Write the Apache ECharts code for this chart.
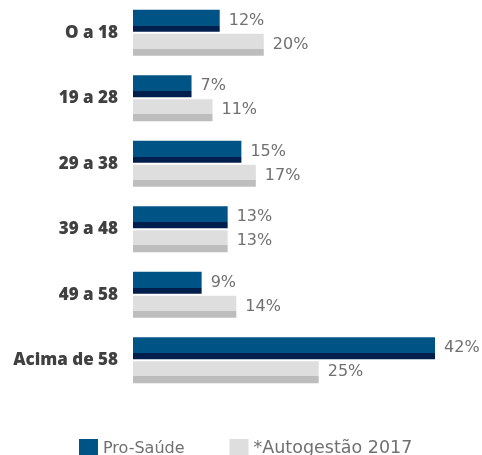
<!DOCTYPE html>
<html><head><meta charset="utf-8">
<script src="https://cdn.jsdelivr.net/npm/echarts@6/dist/echarts.min.js"></script>
<style>html,body{margin:0;padding:0;background:#fff}#c{width:482px;height:455px}</style>
</head><body><div id="c"></div>
<script>
const categories = ['O a 18', '19 a 28', '29 a 38', '39 a 48', '49 a 58', 'Acima de 58'];
const seriesNames = ['Pro-Saúde', '*Autogestão 2017'];
// bar lengths as drawn (percent)
const proSaude = [12, 8.1, 15, 13.1, 9.5, 41.8];
const autogestao = [18.1, 11, 17, 13.1, 14.3, 25.7];
// labels as printed
const proSaudeLabels = ['12%', '7%', '15%', '13%', '9%', '42%'];
const autogestaoLabels = ['20%', '11%', '17%', '13%', '14%', '25%'];

function hard(a, b, at) {
  return new echarts.graphic.LinearGradient(0, 0, 0, 1, [
    {offset: 0, color: a}, {offset: at, color: a},
    {offset: at, color: b}, {offset: 1, color: b}
  ]);
}
const chart = echarts.init(document.getElementById('c'), null, {renderer: 'canvas'});
const lbl = (arr) => ({
  show: true, position: 'right', distance: 9,
  color: '#707070', fontSize: 16, fontFamily: 'DejaVu Sans',
  formatter: p => arr[p.dataIndex]
});
chart.setOption({
  animation: false,
  grid: {left: 133, right: 0, top: -2, height: 395, containLabel: false},
  xAxis: {type: 'value', min: 0, max: 48.3, show: false},
  yAxis: {
    type: 'category', data: categories, inverse: true,
    axisLine: {show: false}, axisTick: {show: false}, splitLine: {show: false},
    axisLabel: {color: '#404040', fontWeight: 900, fontSize: 17, fontFamily: 'Open Sans', margin: 15}
  },
  legend: {
    bottom: -8, left: 74, itemWidth: 19, itemHeight: 19, itemGap: 45,
    icon: 'rect',
    textStyle: {color: '#707070', fontSize: 16, fontFamily: 'DejaVu Sans'},
    data: [
      {name: seriesNames[0], itemStyle: {color: '#005485'}},
      {name: seriesNames[1], itemStyle: {color: '#DEDEDE'}, textStyle: {fontSize: 17.5}}
    ]
  },
  series: [
    {name: seriesNames[0], type: 'bar', data: proSaude, barWidth: 22, barGap: '9%', barCategoryGap: '30%',
      itemStyle: {color: hard('#005485', '#001F4D', 0.73)}, label: lbl(proSaudeLabels)},
    {name: seriesNames[1], type: 'bar', data: autogestao, barWidth: 22,
      itemStyle: {color: hard('#DEDEDE', '#BDBDBD', 0.69)}, label: lbl(autogestaoLabels)}
  ]
});
</script></body></html>
